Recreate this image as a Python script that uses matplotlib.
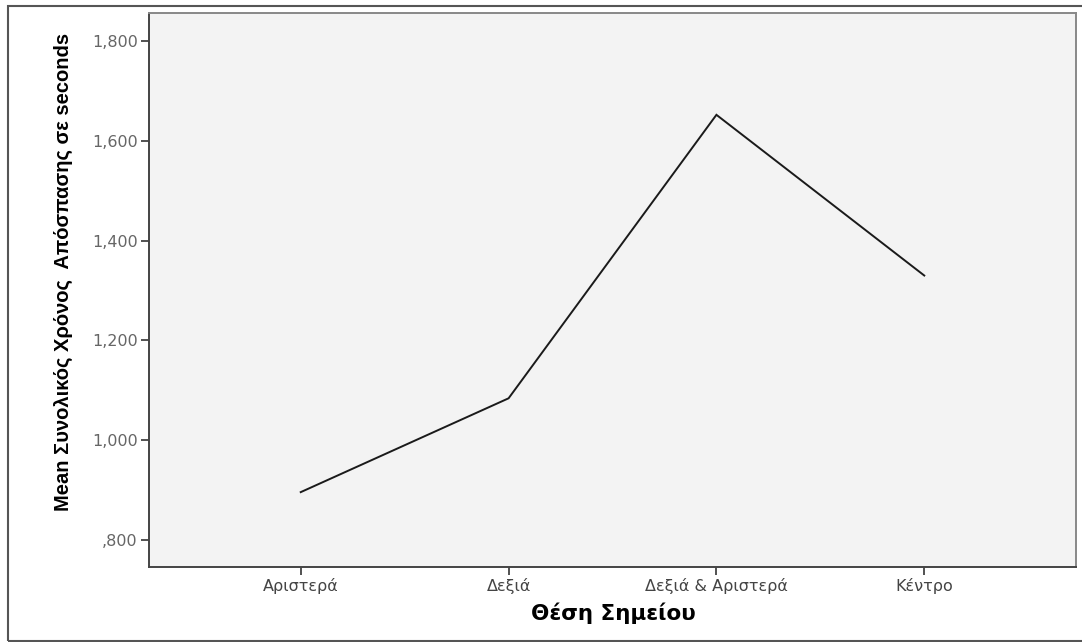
import matplotlib
matplotlib.use("Agg")
import matplotlib.pyplot as plt
from matplotlib.patches import Rectangle

categories = ["Αριστερά", "Δεξιά", "Δεξιά & Αριστερά", "Κέντρο"]
mean_time = [896, 1084, 1652, 1330]
y_ticks = [800, 1000, 1200, 1400, 1600, 1800]
y_tick_labels = [",800", "1,000", "1,200", "1,400", "1,600", "1,800"]

plt.rcParams["font.family"] = ["DejaVu Sans"]

fig = plt.figure(figsize=(10.82, 6.42), dpi=100)
fig.patch.set_facecolor("white")

# outer frame around the chart
fig.patches.append(Rectangle((8 / 1082, 1 / 642), 1.2, 635 / 642,
                             transform=fig.transFigure, fill=False,
                             edgecolor="#555555", linewidth=1.5))

ax = fig.add_axes([149 / 1082, 1 - 567 / 642, (1076 - 149) / 1082, (567 - 13) / 642])
ax.set_facecolor("#f3f3f3")

x = list(range(len(categories)))
ax.plot(x, mean_time, color="#1a1a1a", linewidth=1.4, solid_joinstyle="miter")

ax.set_xlim(-0.73, 3.73)
ax.set_ylim(746, 1856)
ax.set_xticks(x)
ax.set_xticklabels(categories, fontsize=11.5, color="#444444")
ax.set_yticks(y_ticks)
ax.set_yticklabels(y_tick_labels, fontsize=11.5, color="#666666")

ax.tick_params(axis="both", direction="out", length=6, width=1.2, color="#333333")
ax.tick_params(axis="x", pad=2)
ax.tick_params(axis="y", pad=2)

for side in ("left", "bottom"):
    ax.spines[side].set_color("#444444")
    ax.spines[side].set_linewidth(1.4)
for side in ("top", "right"):
    ax.spines[side].set_color("#888888")
    ax.spines[side].set_linewidth(1.4)

ax.set_xlabel("Θέση Σημείου", fontsize=15.5, fontweight="bold")
ax.xaxis.set_label_coords(0.5005, -0.064)
ax.set_ylabel("Mean Συνολικός Χρόνος  Απόσπασης σε seconds",
              fontsize=14.5, fontweight="bold",
              family=["Liberation Sans", "DejaVu Sans"])
ax.yaxis.set_label_coords(-0.082, 0.533)

fig.savefig("out.png", dpi=100, facecolor="white")
